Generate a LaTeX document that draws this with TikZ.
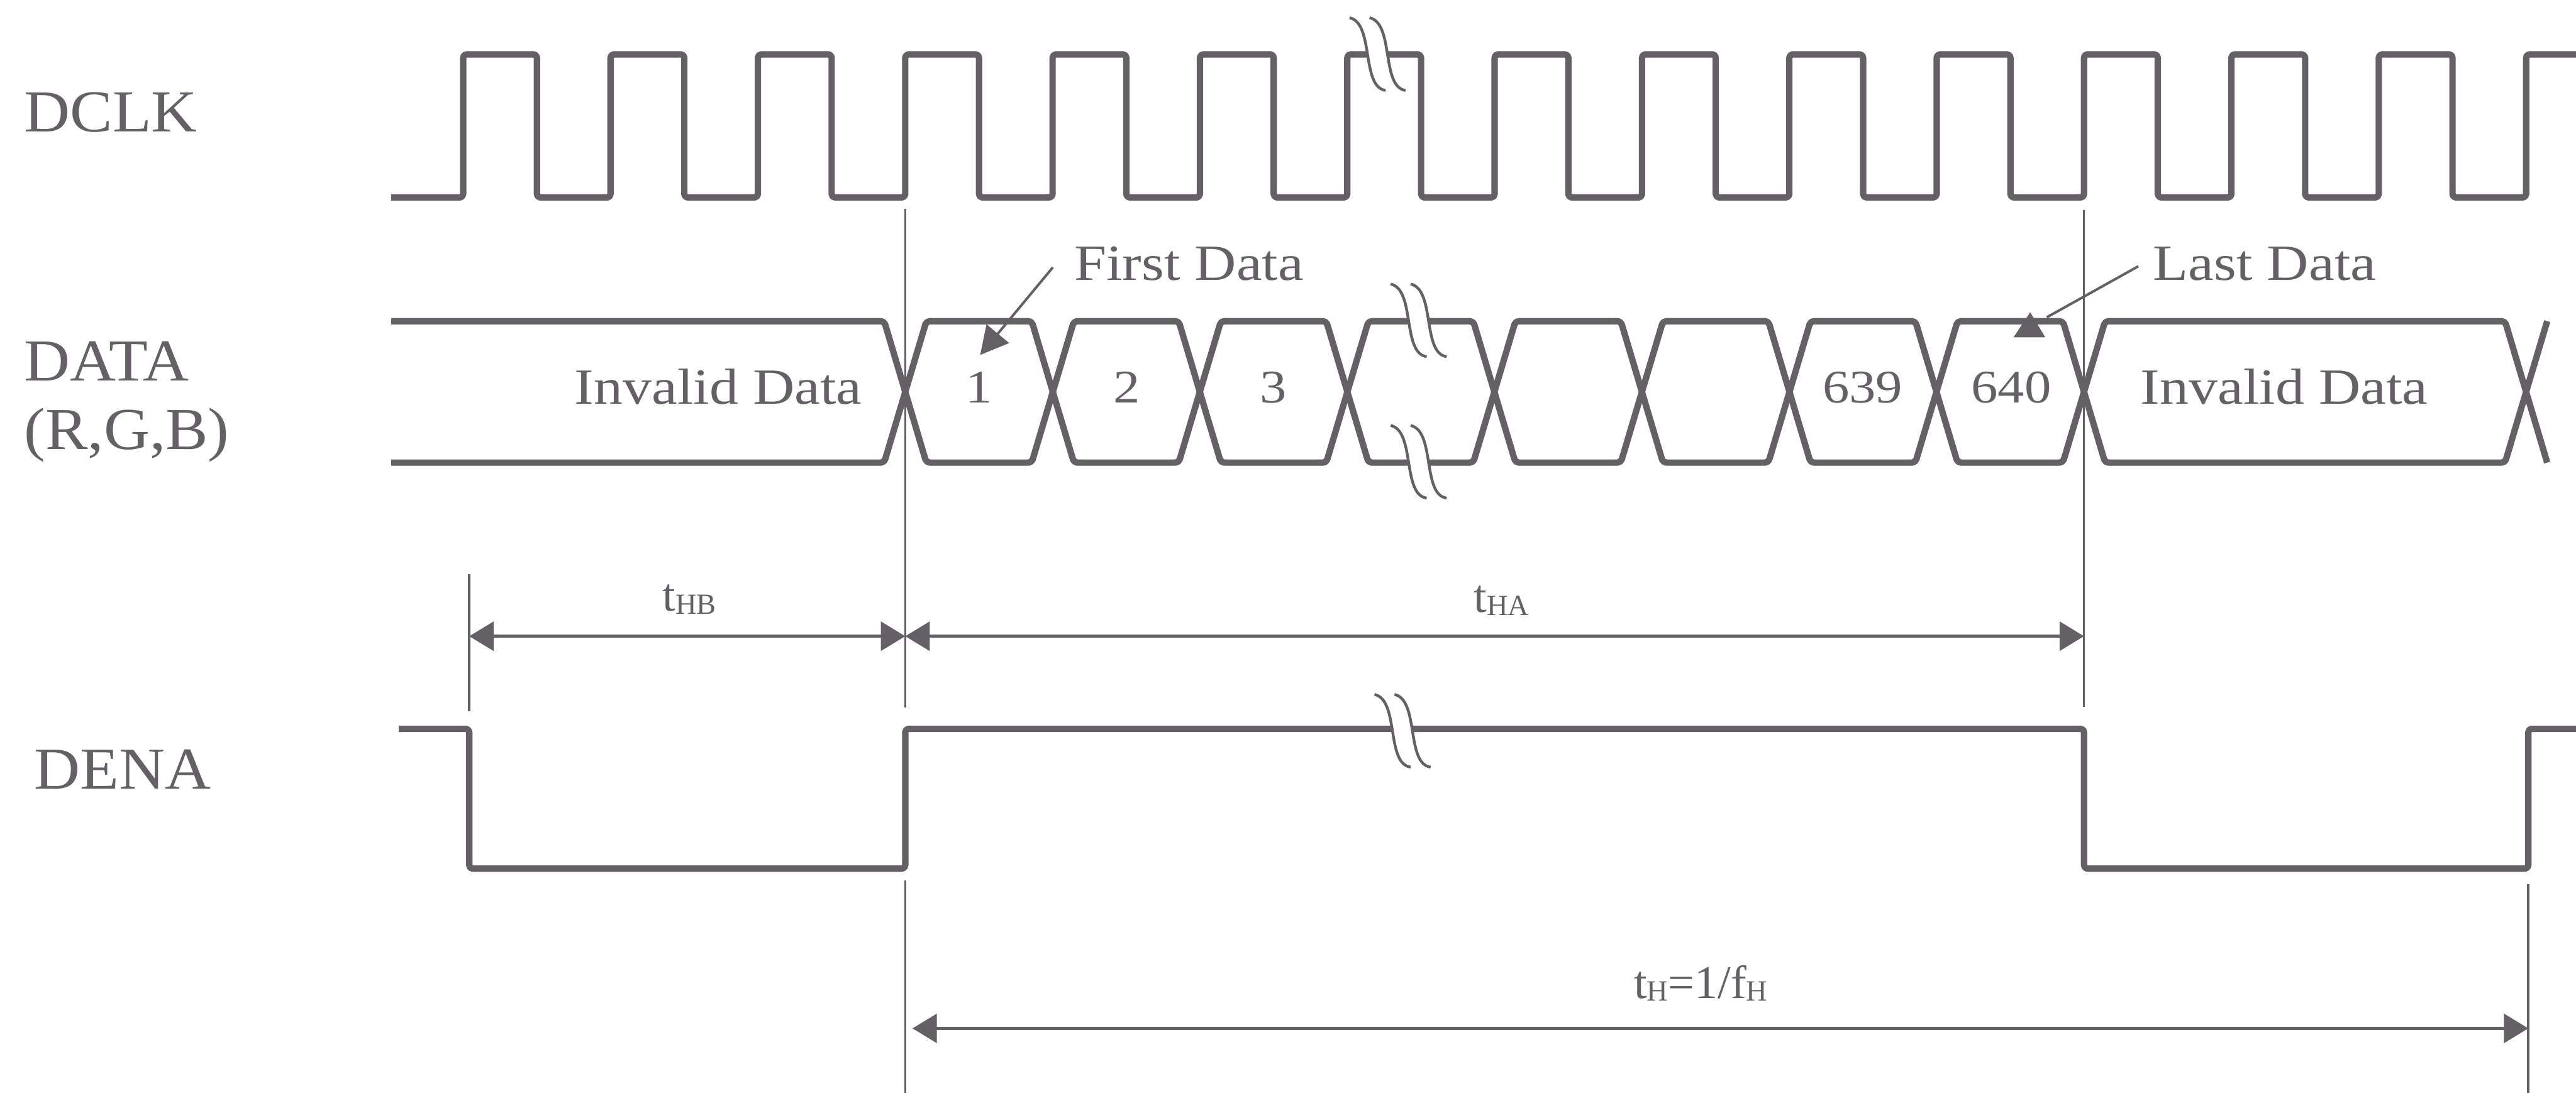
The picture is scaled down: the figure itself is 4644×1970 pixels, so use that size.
\documentclass[tikz,border=0pt]{standalone}
\usepackage{fontspec}
\setmainfont{Liberation Serif}
\newfontfamily\lblfont[FakeStretch=1.07]{Liberation Serif}
\newfontfamily\txtfont[FakeStretch=1.14]{Liberation Serif}
\usetikzlibrary{arrows.meta,calc}
\definecolor{ink}{RGB}{100,96,102}
\newcommand\tsub[1]{{\fontsize{15}{15}\selectfont\raisebox{-1.4pt}{#1}}}
\tikzset{
  wave/.style={draw=ink, line width=1.15mm, rounded corners=0.6mm, line join=round},
  marker/.style={draw=ink, line width=0.4mm},
  dimarrow/.style={draw=ink, line width=0.55mm,
     {Triangle[length=4.4mm,width=5.2mm]}-{Triangle[length=4.4mm,width=5.2mm]}},
  callout/.style={draw=ink, line width=0.45mm},
  brk/.style={draw=ink, line width=0.5mm},
  sig/.style={text=ink, font=\lblfont\fontsize{30.5}{34}\selectfont, anchor=base west, inner sep=0},
  intext/.style={text=ink, font=\txtfont\fontsize{26}{30}\selectfont, anchor=base, inner sep=0},
  numtext/.style={text=ink, font=\txtfont\fontsize{24}{28}\selectfont, anchor=base, inner sep=0},
  timetext/.style={text=ink, font=\fontsize{24}{28}\selectfont, anchor=base, inner sep=0},
  brkpair/.pic={
    \fill[white] (0,0) .. controls (45,10) and (20,125) .. (65,131) -- (101,131)
       .. controls (56,125) and (81,10) .. (36,0) -- cycle;
    \draw[brk] (0,0) .. controls (45,10) and (20,125) .. (65,131);
    \draw[brk] (36,0) .. controls (81,10) and (56,125) .. (101,131);
  }
}
\begin{document}
\begin{tikzpicture}[x=0.1mm,y=-0.1mm]
\useasboundingbox (0,0) rectangle (4644,1970);

% signal labels
\node[sig] (lclk) at (43,238) {DCLK};
\node[sig] (ldata) at (43,686) {DATA};
\node[sig] (lrgb) at (43,810) {(R,G,B)};
\node[sig] (lden) at (61,1422) {DENA};

% DCLK
\draw[wave] (705,356) foreach \k in {0,...,13} {
   -- ({835+265.64*\k},356) -- ({835+265.64*\k},98)
   -- ({968+265.64*\k},98) -- ({968+265.64*\k},356) }
   -- (4554,356) -- (4554,98) -- (4644,98);

% DATA bus
\draw[wave] (705,579) -- (1594,579) -- (1670,834) -- (1860,834) -- (1936,579)
  -- (2125,579) -- (2201,834) -- (2391,834) -- (2467,579) -- (2656,579)
  -- (2732,834) -- (2922,834) -- (2998,579) -- (3188,579) -- (3264,834)
  -- (3453,834) -- (3529,579) -- (3719,579) -- (3795,834) -- (4516,834) -- (4592,579);
\draw[wave] (705,834) -- (1594,834) -- (1670,579) -- (1860,579) -- (1936,834)
  -- (2125,834) -- (2201,579) -- (2391,579) -- (2467,834) -- (2656,834)
  -- (2732,579) -- (2922,579) -- (2998,834) -- (3188,834) -- (3264,579)
  -- (3453,579) -- (3529,834) -- (3719,834) -- (3795,579) -- (4516,579) -- (4592,834);

% DENA
\draw[wave] (719,1314) -- (846,1314) -- (846,1566) -- (1632,1566) -- (1632,1314)
  -- (3757,1314) -- (3757,1566) -- (4558,1566) -- (4558,1314) -- (4644,1314);

% break marks
\pic at (2433,32) {brkpair};
\pic at (2507,512) {brkpair};
\pic at (2507,767) {brkpair};
\pic at (2478,1252) {brkpair};

% data texts
\node[intext] (inv1) at (1295,729) {Invalid Data};
\node[numtext] (d1) at (1765,726) {1};
\node[numtext] (d2) at (2031,726) {2};
\node[numtext] (d3) at (2296,726) {3};
\node[numtext] (d639) at (3358,726) {639};
\node[numtext] (d640) at (3626,726) {640};
\node[intext] (inv2) at (4118,729) {Invalid Data};
\node[intext, anchor=base west] (first) at (1936,505) {First Data};
\node[intext, anchor=base west] (last) at (3881,505) {Last Data};

% callouts
\coordinate (fa) at (1898,482);
\coordinate (fb) at (1767,640);
\draw[callout, -{Triangle[length=5mm,width=5.2mm]}] (fa) -- (fb);
\coordinate (la) at (3855,480);
\coordinate (lb) at (3690,572);
\draw[callout] (la) -- (lb);
\fill[ink] (3630,608) -- (3687,608) -- (3660,563) -- cycle;

% marker lines
\coordinate (m1a) at (1632,376);  \coordinate (m1b) at (1632,1275);
\coordinate (m1c) at (1632,1587); \coordinate (m1d) at (1632,1970);
\coordinate (m2a) at (3757,379);  \coordinate (m2b) at (3757,1274);
\coordinate (m3a) at (846,1035);  \coordinate (m3b) at (846,1282);
\coordinate (m4a) at (4558,1594); \coordinate (m4b) at (4558,1970);
\draw[marker] (m1a) -- (m1b);
\draw[marker] (m1c) -- (m1d);
\draw[marker] (m2a) -- (m2b);
\draw[marker] (m3a) -- (m3b);
\draw[marker] (m4a) -- (m4b);

% dimension arrows
\coordinate (hb1) at (846,1147);
\coordinate (hb2) at (1632,1147);
\coordinate (ha2) at (3757,1147);
\coordinate (h1) at (1645,1854);
\coordinate (h2) at (4558,1854);
\draw[dimarrow] (hb1) -- (hb2);
\draw[dimarrow] (hb2) -- (ha2);
\draw[dimarrow] (h1) -- (h2);

\node[timetext] (thb) at (1243,1102) {t\tsub{HB}};
\node[timetext] (tha) at (2707,1104) {t\tsub{HA}};
\node[timetext] (th) at (3066,1800) {t\tsub{H}=1/f\tsub{H}};
\end{tikzpicture}
\end{document}
